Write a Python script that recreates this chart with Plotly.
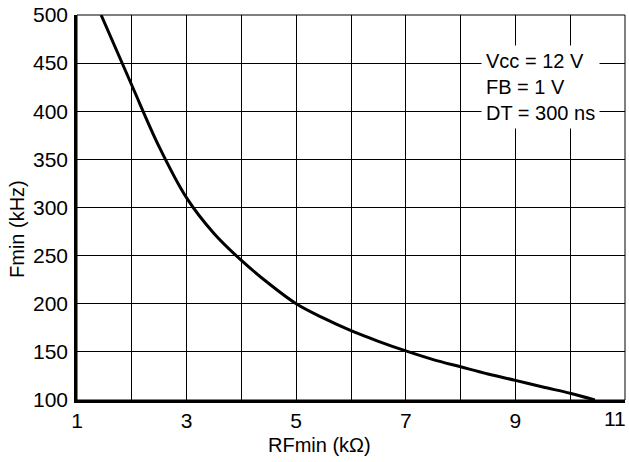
import plotly.graph_objects as go

rf_kohm = [1.44, 2.0, 2.5, 3.0, 3.5, 4.0, 4.5, 5.0, 5.5, 6.0, 6.5, 7.0, 7.5, 8.0, 8.5, 9.0, 9.5, 10.0, 10.45]
fmin_khz = [500, 427, 363, 310, 273, 245, 221, 200, 185, 172, 161, 151, 142, 134.5, 127, 120.4, 113.5, 107, 100]

x_ticks = [1, 3, 5, 7, 9, 11]
x_tick_text = ["1", "3", "5", "7", "9", ""]
x_last_label = "11"
y_ticks = [100, 150, 200, 250, 300, 350, 400, 450, 500]

FONT = "Liberation Sans, Arial, Helvetica, sans-serif"
W, H = 629, 462
L, R, T, B = 77, 4, 15, 62
PW, PH = W - L - R, H - T - B


def px_x(p):
    return (p - L) / PW


def px_y(p):
    return 1 - (p - T) / PH


fig = go.Figure()
fig.add_trace(go.Scatter(x=rf_kohm, y=fmin_khz, mode="lines",
                         line=dict(color="black", width=3, shape="spline", smoothing=1.0),
                         showlegend=False, hoverinfo="skip"))

fig.update_layout(
    width=W, height=H,
    margin=dict(l=L, r=R, t=T, b=B, autoexpand=False),
    paper_bgcolor="white", plot_bgcolor="white",
    font=dict(family=FONT, size=20, color="black"),
    xaxis=dict(range=[1, 11], tickvals=x_ticks, ticktext=x_tick_text,
               showgrid=True, gridcolor="black", gridwidth=1,
               minor=dict(dtick=1, tick0=1, showgrid=True, gridcolor="black", gridwidth=1),
               showline=True, linecolor="black", linewidth=2.5, ticks="", ticklen=0,
               zeroline=False, automargin=False,
               tickfont=dict(size=21)),
    yaxis=dict(range=[100, 500], tickvals=y_ticks,
               showgrid=True, gridcolor="black", gridwidth=1,
               showline=True, linecolor="black", linewidth=2.5, ticks="", ticklen=0,
               zeroline=False, automargin=False, ticklabelstandoff=2,
               tickfont=dict(size=21)),
)

fig.add_shape(type="rect", xref="paper", yref="paper", x0=0, y0=0, x1=1, y1=1,
              line=dict(color="black", width=1), layer="above")

# last x tick label, kept inside the page edge
fig.add_annotation(xref="x", yref="paper", x=x_ticks[-1], y=px_y(419),
                   xanchor="right", yanchor="middle", xshift=3, showarrow=False,
                   text=x_last_label, font=dict(family=FONT, size=21, color="black"))

# axis titles
fig.add_annotation(xref="paper", yref="paper", x=px_x(319), y=px_y(445),
                   xanchor="center", yanchor="middle", showarrow=False,
                   text="RFmin (kΩ)", font=dict(family=FONT, size=20, color="black"))
fig.add_annotation(xref="paper", yref="paper", x=px_x(17), y=px_y(229),
                   xanchor="center", yanchor="middle", showarrow=False, textangle=-90,
                   text="Fmin (kHz)", font=dict(family=FONT, size=20, color="black"))

# condition box
fig.add_annotation(xref="paper", yref="paper", x=px_x(481), y=px_y(45),
                   xanchor="left", yanchor="top", align="left", showarrow=False,
                   text="Vcc = 12 V<br>FB = 1 V<br>DT = 300 ns",
                   font=dict(family=FONT, size=20, color="black"),
                   bgcolor="white", borderpad=4)

fig.write_html("out.html", config={"displayModeBar": False},
               post_script="document.body.style.margin='0';document.body.style.overflow='hidden';")
